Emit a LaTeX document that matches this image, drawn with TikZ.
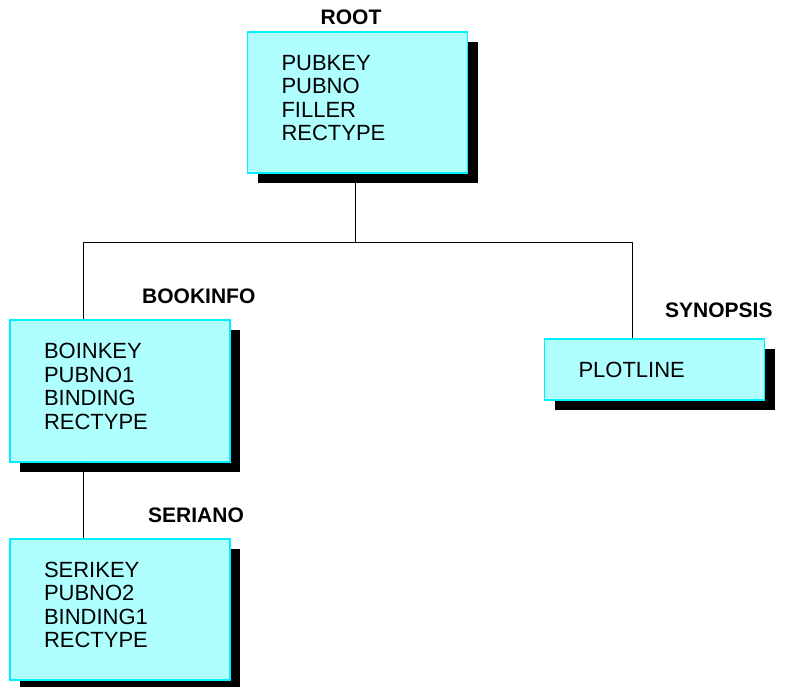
\documentclass[tikz,border=0pt]{standalone}
\usepackage{fontspec}
\setmainfont{Liberation Sans}
\usepackage{tikz}
\usetikzlibrary{positioning, calc, shadows}
\definecolor{segfill}{RGB}{176,255,255}
\definecolor{segline}{RGB}{0,240,255}
\tikzset{
  segbox/.style={rectangle, draw=segline, fill=segfill, line width=1.2pt,
    text width=152pt, inner xsep=34pt, inner ysep=0pt, align=left,
    font=\fontsize{22}{23.5}\selectfont,
    drop shadow={shadow xshift=10pt, shadow yshift=-10pt, fill=black, opacity=1}},
  seglbl/.style={font=\fontsize{21}{24}\selectfont\bfseries, inner sep=0pt},
  link/.style={line width=1pt, color=black},
  deep/.style={execute at end node={\rule[-9pt]{0pt}{9pt}}}
}
\begin{document}
\begin{tikzpicture}[x=1pt, y=-1pt]
  \useasboundingbox (0,0) rectangle (785,686);

  \node [segbox, deep, minimum height=141pt] (root) at (357.5,102.5) {PUBKEY\\PUBNO\\FILLER\\RECTYPE};
  \node [segbox, deep, minimum height=142pt] (bookinfo) at (120,391) {BOINKEY\\PUBNO1\\BINDING\\RECTYPE};
  \node [segbox, deep, minimum height=141pt] (seriano) at (120,609.5) {SERIKEY\\PUBNO2\\BINDING1\\RECTYPE};
  \node [segbox, minimum height=61pt] (synopsis) at (654.5,369.5) {PLOTLINE};

  \node [seglbl, anchor=base] (rootlbl) at (351,24) {ROOT};
  \node [seglbl, anchor=base west] (bookinfolbl) at (142,303) {BOOKINFO};
  \node [seglbl, anchor=base west] (serianolbl) at (148,522) {SERIANO};
  \node [seglbl, anchor=base west] (synopsislbl) at (665,317) {SYNOPSIS};

  \draw [link] ([xshift=-2pt]root.south) -- ++(0,69) coordinate (hub);
  \draw [link] (hub) -| ([xshift=-37pt]bookinfo.north);
  \draw [link] (hub) -| ([xshift=-22pt]synopsis.north);
  \draw [link] ([xshift=-37pt]bookinfo.south) -- ([xshift=-37pt]seriano.north);
\end{tikzpicture}
\end{document}
